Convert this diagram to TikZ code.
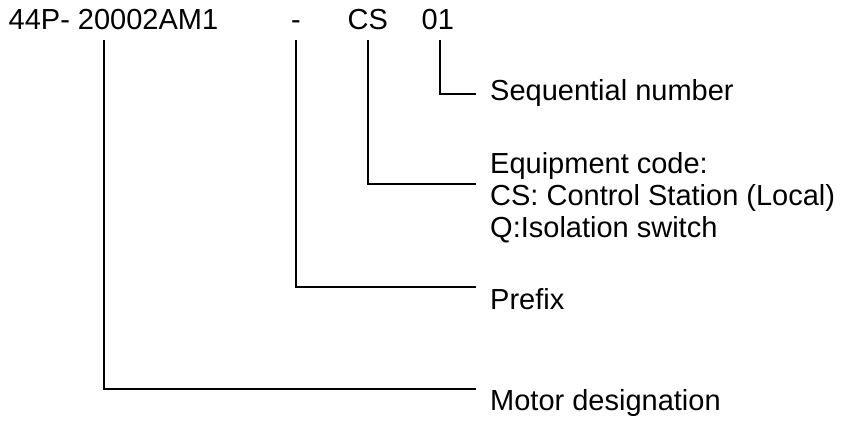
\documentclass[tikz,border=0pt]{standalone}
\usepackage{fontspec}
\setmainfont{Liberation Sans}
\begin{document}
\begin{tikzpicture}[x=1pt,y=-1pt,
  lbl/.style={inner sep=0pt,anchor=base west,font=\fontsize{29}{33}\selectfont},
  conn/.style={line width=1.5pt}]
\useasboundingbox (0,0) rectangle (841,421);
% top code
\node[lbl] (code) at (8.5,29) {44P- 20002AM1};
\node[lbl,anchor=base] (dash) at (296,29) {-};
\node[lbl] (cs) at (347.5,29) {CS};
\node[lbl] (num) at (421.5,29) {01};
% descriptions
\node[lbl] (seq) at (490,100) {Sequential number};
\node[lbl] (eq1) at (490,173) {Equipment code:};
\node[lbl] (eq2) at (490,205) {CS: Control Station (Local)};
\node[lbl] (eq3) at (490,237) {Q:Isolation switch};
\node[lbl] (pre) at (490,309) {Prefix};
\node[lbl] (mot) at (490,410) {Motor designation};
% connector ends
\coordinate (a1) at (104,40);
\coordinate (b1) at (476,389);
\coordinate (a2) at (296,40);
\coordinate (b2) at (476,287);
\coordinate (a3) at (368,40);
\coordinate (b3) at (476,184);
\coordinate (a4) at (440,40);
\coordinate (b4) at (476,94);
\draw[conn] (a1) |- (b1);
\draw[conn] (a2) |- (b2);
\draw[conn] (a3) |- (b3);
\draw[conn] (a4) |- (b4);
\end{tikzpicture}
\end{document}
